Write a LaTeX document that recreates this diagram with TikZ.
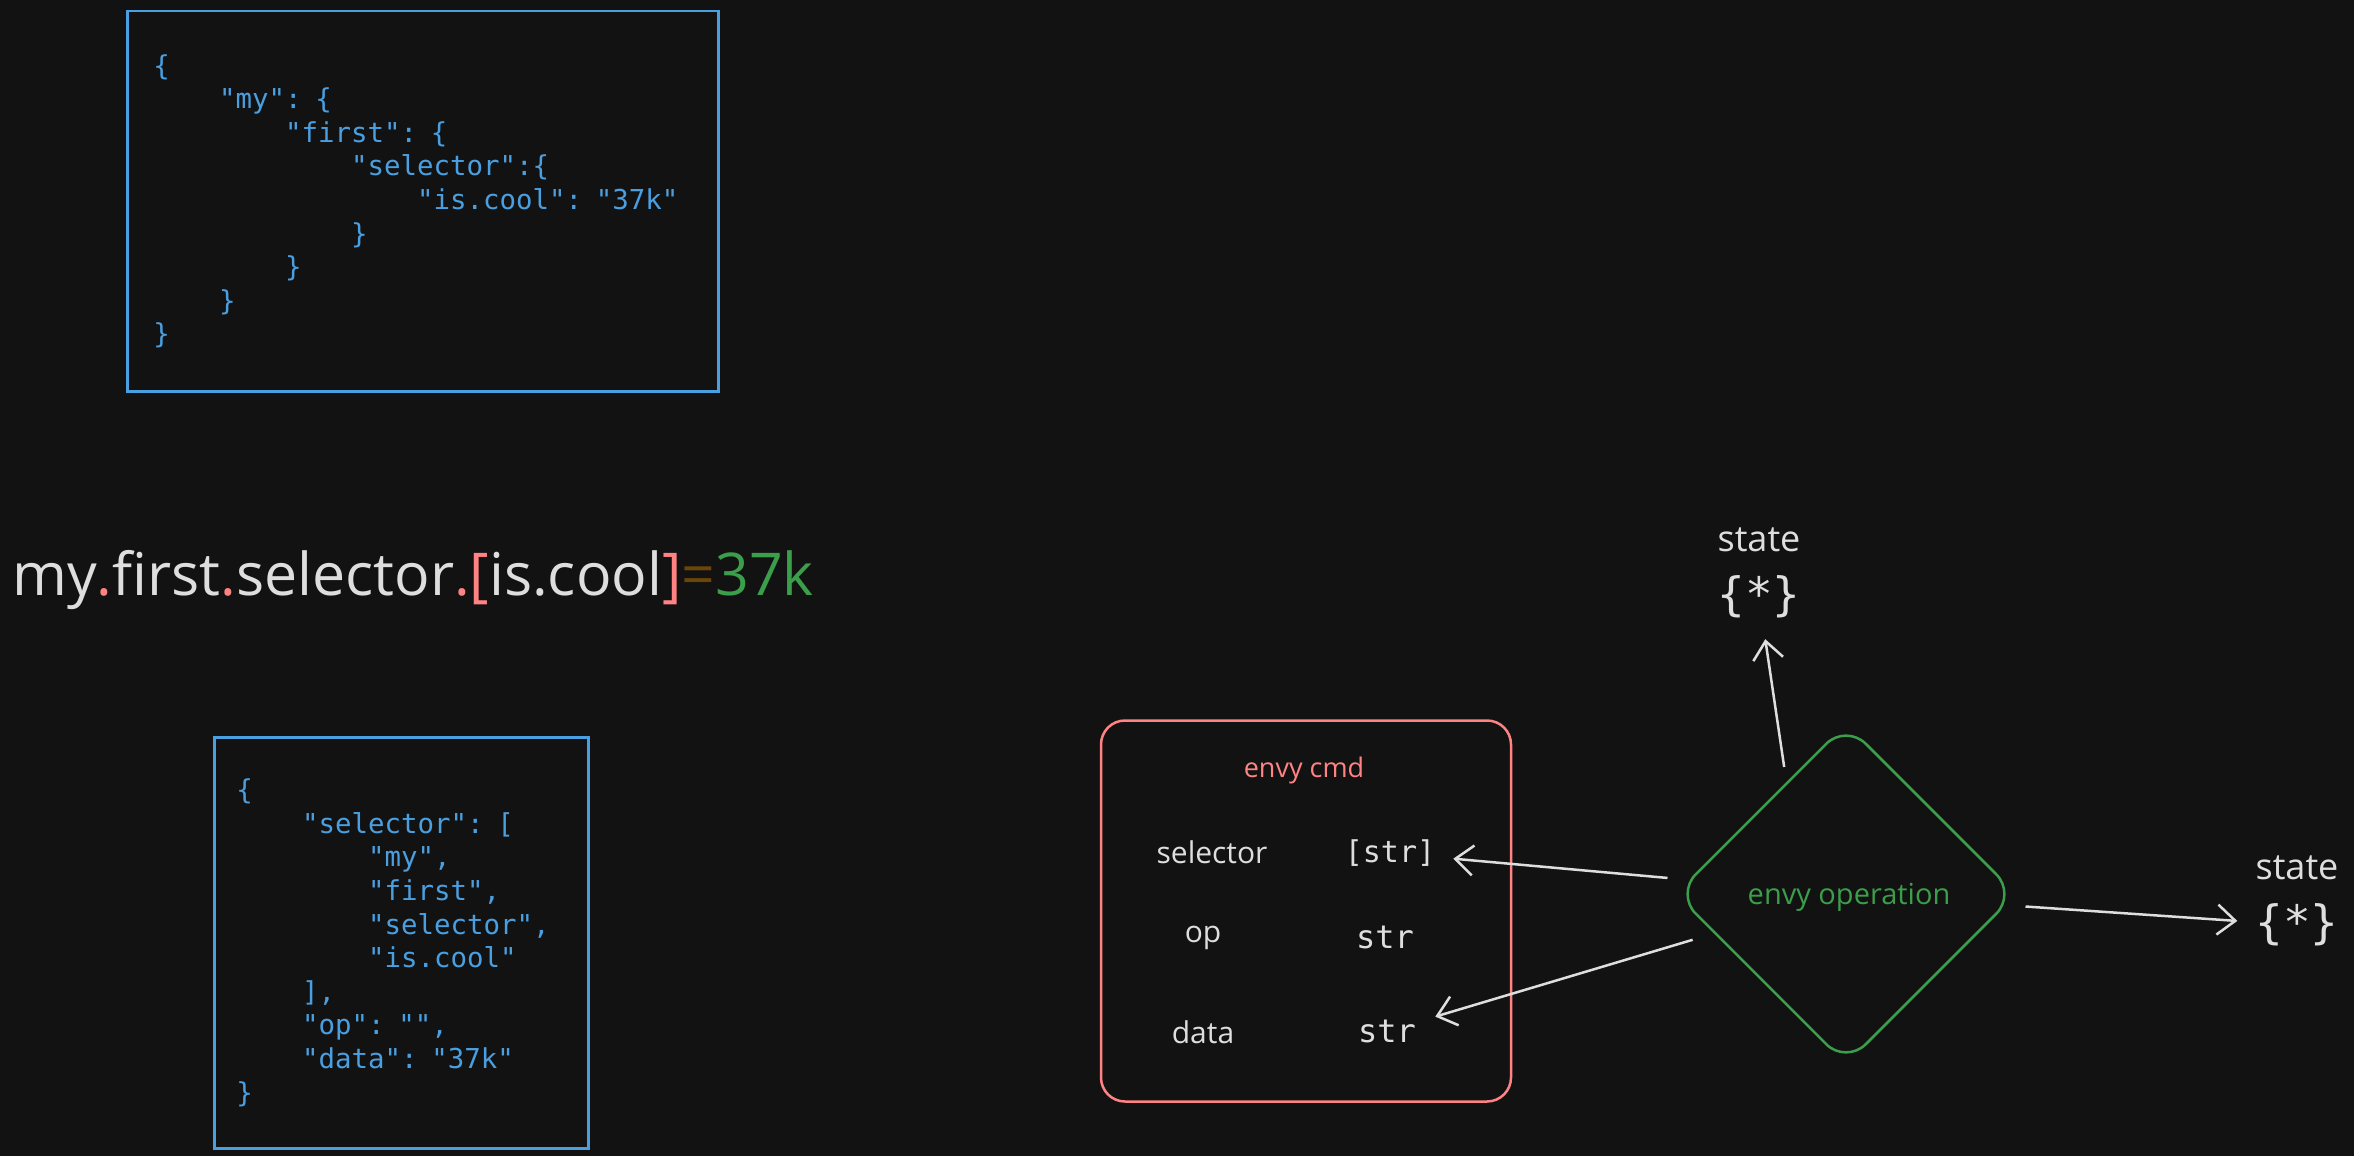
\documentclass[tikz,border=0pt]{standalone}
\usepackage{fontspec}
\setmonofont{DejaVu Sans Mono}
\newfontfamily\handfont{Open Sans}
\usetikzlibrary{positioning,shapes.geometric,arrows.meta}

\definecolor{bg}{HTML}{121212}
\definecolor{ink}{HTML}{DEDEDE}
\definecolor{jsonblue}{HTML}{4A9FE0}
\definecolor{cmdred}{HTML}{FF8383}
\definecolor{opgreen}{HTML}{3B9E4B}
\definecolor{eqbrown}{HTML}{6B4509}

\newcommand\jind{\hphantom{xxxx}}
\newcommand\rdot{\textcolor{cmdred}{.}}

\begin{document}
\begin{tikzpicture}[x=1pt,y=-1pt,
    every node/.style={inner sep=0pt},
    json/.style={draw=jsonblue, line width=2.5pt, text=jsonblue, anchor=north west,
        font=\ttfamily\fontsize{27.4}{33.6}\selectfont, align=left},
    hand/.style={text=ink, font=\handfont\fontsize{30}{36}\selectfont},
    code/.style={text=ink, font=\ttfamily\fontsize{32}{38}\selectfont},
    arr/.style={draw=ink, line width=2.5pt, ->},
    >={Straight Barb[length=18pt,width=30pt]}]
	\useasboundingbox (0,0) rectangle (2354,1156);
	\fill[bg] (0,0) rectangle (2354,1156);
	
	\node[json, text width=539pt, inner xsep=26pt, minimum height=380pt] (nested) at (126,10)
    {\{\\
    \jind"my": \{\\
    \jind\jind"first": \{\\
    \jind\jind\jind"selector":\{\\
    \jind\jind\jind\jind"is.cool": "37k"\\
    \jind\jind\jind\}\\
    \jind\jind\}\\
    \jind\}\\
    \}};
	
	\node[anchor=base west, text=ink, font=\handfont\fontsize{59}{66}\selectfont] (path) at (12,595)
    {my\rdot first\rdot selector\rdot\textcolor{cmdred}{[}is.cool\textcolor{cmdred}{]}\textcolor{eqbrown}{=}\textcolor{opgreen}{37k}};
	
	\node[json, text width=330pt, inner xsep=22pt, minimum height=411pt] (flat) at (213,736)
    {\{\\
    \jind"selector": [\\
    \jind\jind"my",\\
    \jind\jind"first",\\
    \jind\jind"selector",\\
    \jind\jind"is.cool"\\
    \jind],\\
    \jind"op": "",\\
    \jind"data": "37k"\\
    \}};
	
	\node[draw=cmdred, line width=2.5pt, rounded corners=24pt, minimum width=410pt, minimum height=381pt] (cmd) at (1306,911) {};
	\node[hand, text=cmdred, font=\handfont\fontsize{27}{32}\selectfont] (cmdlabel) at (1304,770) {envy cmd};
	
	\node[hand] (selkey) at (1212,852) {selector};
	\node[code, font=\ttfamily\fontsize{30}{36}\selectfont] (seltype) at (1390,853) {[str]};
	\node[hand] (opkey) at (1203,938) {op};
	\node[code] (optype) at (1385,937) {str};
	\node[hand] (datakey) at (1203,1032) {data};
	\node[code] (datatype) at (1387,1031) {str};
	
	\node[diamond, aspect=1, draw=opgreen, line width=2.5pt, rounded corners=28pt, minimum width=341pt, minimum height=341pt] (op) at (1846,894) {};
	\node[hand, text=opgreen, font=\handfont\fontsize{29}{34}\selectfont] (oplabel) at (1849,897) {envy operation};
	
	\node[code, font=\ttfamily\fontsize{46}{52}\selectfont] (state1) at (1759,597) {\{*\}};
	\node[hand, font=\handfont\fontsize{36}{42}\selectfont] (state1label) at (1759,540) {state};
	\node[code, font=\ttfamily\fontsize{46}{52}\selectfont] (state2) at (2297,925) {\{*\}};
	\node[hand, font=\handfont\fontsize{36}{42}\selectfont] (state2label) at (2297,868) {state};
	
	\draw[arr, shorten <=21pt, shorten >=18pt] (op) -- (seltype);
	\draw[arr, shorten <=22pt, shorten >=20pt] (op) -- (datatype);
	\draw[arr, shorten <=15pt, shorten >=21pt] (op.118) -- (state1);
	\draw[arr, shorten <=19pt, shorten >=18pt] (op.-4) -- (state2);
	
\end{tikzpicture}
\end{document}
